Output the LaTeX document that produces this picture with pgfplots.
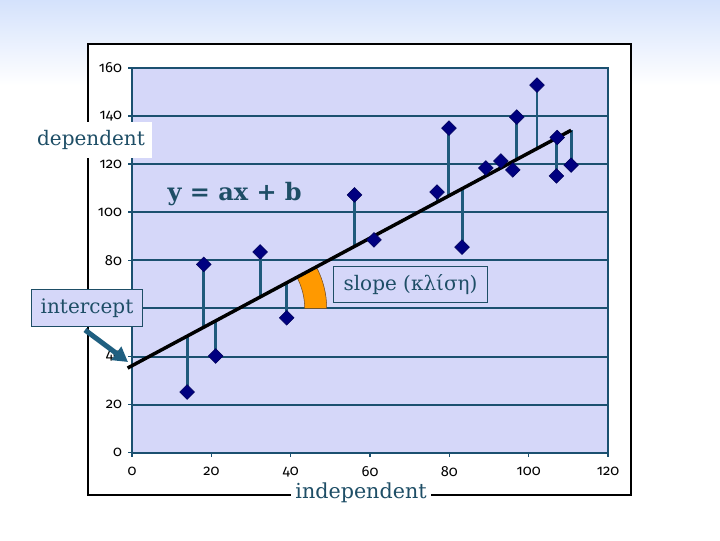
\documentclass[border=0pt]{standalone}
\usepackage{pgfplots}
\pgfplotsset{compat=1.18}
\usepackage{fontspec}
\setmainfont{DejaVu Serif}
\newfontfamily\tickfont[Numbers=OldStyle]{Fira Sans}
\usetikzlibrary{calc,arrows.meta}
\definecolor{teal1}{HTML}{1E4E66}
\definecolor{gridc}{HTML}{1B5070}
\definecolor{stemc}{HTML}{1F5A7C}
\definecolor{arrowc}{HTML}{1F5F80}
\definecolor{plotbg}{HTML}{D5D7F9}
\definecolor{navyc}{HTML}{000080}
\definecolor{skyblue}{HTML}{D4E2FC}
\definecolor{orng}{HTML}{FF9900}
\begin{document}
\begin{tikzpicture}[x=1pt,y=1pt]
\useasboundingbox (0,0) rectangle (540,405);
\fill[white] (0,0) rectangle (540,405);
\shade[top color=skyblue, bottom color=white] (0,341) rectangle (540,405);
\draw[black, line width=0.9pt, fill=white] (66,33.75) rectangle (473.25,372);
\begin{axis}[
  at={(99pt,65.5pt)}, anchor=south west, scale only axis,
  width=357pt, height=288.5pt,
  xmin=0, xmax=120, ymin=0, ymax=160,
  xtick={0,20,...,120}, ytick={0,20,...,160},
  ymajorgrids, grid style={gridc, line width=1.5pt},
  axis line style={gridc, line width=1.5pt},
  axis background/.style={fill=plotbg},
  tick style={gridc, line width=1.2pt},
  tick align=outside, major tick length=3pt,
  xtick pos=bottom, ytick pos=left,
  ticklabel style={font=\tickfont\fontsize{11}{12}\selectfont, /pgf/number format/assume math mode=true},
  xticklabel style={yshift=-4pt},
  yticklabel style={xshift=-1pt},
  clip=false, unbounded coords=jump,
]
% slope wedge
\filldraw[fill=orng, draw=brown!60!black, line width=0.4pt]
  ($(axis cs:26.9,60)+(0:49.5pt)$) arc[start angle=0,end angle=28.2,radius=49.5pt]
  -- ($(axis cs:26.9,60)+(28.2:66pt)$) arc[start angle=28.2,end angle=0,radius=66pt] -- cycle;
% residuals
\addplot[stemc, line width=2.2pt, no markers] coordinates {
(13.9,25.2)(13.9,48.5)(13.9,nan)
(18.1,78.3)(18.1,52.2)(18.1,nan)
(21.1,40.2)(21.1,54.9)(21.1,nan)
(32.3,83.5)(32.3,64.8)(32.3,nan)
(39.0,56.1)(39.0,70.7)(39.0,nan)
(56.1,107.2)(56.1,85.8)(56.1,nan)
(61.0,88.5)(61.0,90.1)(61.0,nan)
(76.9,108.4)(76.9,104.2)(76.9,nan)
(79.9,135.0)(79.9,106.8)(79.9,nan)
(83.2,85.5)(83.2,109.8)(83.2,nan)
(89.2,118.4)(89.2,115.1)(89.2,nan)
(93.0,121.3)(93.0,118.4)(93.0,nan)
(96.0,117.6)(96.0,121.1)(96.0,nan)
(97.0,139.6)(97.0,121.9)(97.0,nan)
(102.1,152.9)(102.1,126.5)(102.1,nan)
(107.0,115.1)(107.0,130.8)(107.0,nan)
(110.7,119.6)(110.7,134.1)
};
% regression line
\addplot[black, line width=2.6pt, no markers] coordinates {(-1.1,35.2)(110.7,134.1)};
% data points
\addplot[only marks, mark=square*, mark size=3.9pt, mark options={rotate=45, fill=navyc, draw=navyc!70!black}] coordinates {
(13.9,25.2)(18.1,78.3)(21.1,40.2)(32.3,83.5)(39.0,56.1)(56.1,107.2)
(61.0,88.5)(76.9,108.4)(79.9,135.0)(83.2,85.5)(89.2,118.4)(93.0,121.3)
(96.0,117.6)(97.0,139.6)(102.1,152.9)(107.0,115.1)(107.2,131.1)(110.7,119.6)
};
\end{axis}
\node[fill=white, minimum width=91.5pt, minimum height=27pt, inner sep=0pt, text=teal1, font=\fontsize{15}{18}\selectfont] at (68.25,300) {dependent};
\node[fill=plotbg, draw=teal1, line width=0.6pt, minimum width=83pt, minimum height=27.5pt, inner sep=0pt, text=teal1, font=\fontsize{15}{18}\selectfont] at (65.25,174.2) {intercept};
\node[fill=plotbg, draw=teal1, line width=0.6pt, minimum width=116pt, minimum height=27.5pt, inner sep=0pt, text=teal1, font=\fontsize{15}{18}\selectfont] at (307.9,191.6) {slope (κλίση)};
\node[fill=white, inner xsep=3pt, inner ysep=1pt, text=teal1, font=\fontsize{15.5}{18}\selectfont] at (270.75,35.25) {independent};
\node[anchor=base, text=teal1, font=\bfseries\fontsize{18}{20}\selectfont] at (176,254.5) {y = ax + b};
\draw[arrowc, line width=3.75pt, -{Triangle[length=11pt, width=12pt]}] (63.75,157.5) -- (96,133.5);
\end{tikzpicture}
\end{document}
